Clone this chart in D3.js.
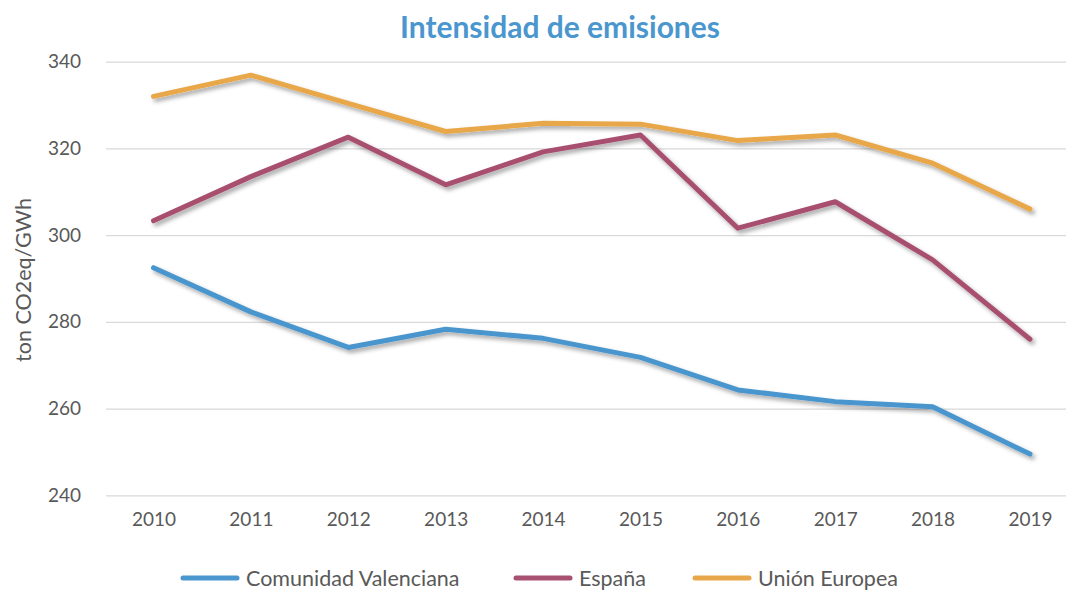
<!DOCTYPE html>
<html>
<head>
<meta charset="utf-8">
<script src="https://cdn.jsdelivr.net/npm/d3@7"></script>
<style>
  html, body { margin: 0; padding: 0; background: #fff; }
  svg { display: block; font-family: Lato, "Open Sans", sans-serif; }
</style>
</head>
<body>
<svg id="chart" width="1067" height="590"></svg>
<script>
// Emission intensity, ton CO2eq per GWh
const years = ["2010","2011","2012","2013","2014","2015","2016","2017","2018","2019"];
const comunidadValenciana = [292.5, 282.3, 274.1, 278.3, 276.2, 271.8, 264.3, 261.6, 260.4, 249.5];
const espana = [303.3, 313.5, 322.6, 311.6, 319.2, 323.1, 301.6, 307.7, 294.3, 276.0];
const unionEuropea = [332.0, 336.9, 330.4, 323.9, 325.8, 325.6, 321.8, 323.1, 316.6, 306.0];
const yTicks = [240, 260, 280, 300, 320, 340];

const seriesNames = ["Comunidad Valenciana", "España", "Unión Europea"];
const seriesValues = [comunidadValenciana, espana, unionEuropea];
const colors = ["#4A96CE", "#A8506F", "#E8A74A"];

const svg = d3.select("#chart");
const textColor = "#595959";

const defs = svg.append("defs");
const shadow = defs.append("filter").attr("id", "lineShadow")
  .attr("x", "-10%").attr("y", "-10%").attr("width", "120%").attr("height", "130%");
shadow.append("feDropShadow")
  .attr("dx", 2.5).attr("dy", 3).attr("stdDeviation", 2)
  .attr("flood-color", "#000").attr("flood-opacity", 0.35);

const x = d3.scalePoint().domain(years).range([153.5, 1030]);
const y = d3.scaleLinear().domain([240, 340]).range([495.3, 61.7]);

// Horizontal gridlines
const grid = svg.append("g")
  .attr("transform", "translate(106,0)")
  .call(d3.axisLeft(y).tickValues(yTicks).tickSize(-960).tickFormat(""));
grid.select(".domain").remove();
grid.selectAll(".tick line").attr("stroke", "#D9D9D9").attr("stroke-width", 1.2);

// Y axis labels
const yAxis = svg.append("g")
  .attr("transform", "translate(81,0)")
  .call(d3.axisLeft(y).tickValues(yTicks).tickSize(0).tickPadding(0));
yAxis.select(".domain").remove();
yAxis.selectAll("text")
  .attr("fill", textColor).style("font-size", "19px")
  .style("font-family", "Lato, sans-serif");

// X axis labels
const xAxis = svg.append("g")
  .attr("transform", "translate(0,512)")
  .call(d3.axisBottom(x).tickSize(0).tickPadding(0));
xAxis.select(".domain").remove();
xAxis.selectAll("text")
  .attr("fill", textColor).style("font-size", "19px")
  .style("font-family", "Lato, sans-serif");

// Axis title
svg.append("text")
  .attr("transform", "translate(31,280) rotate(-90)")
  .attr("text-anchor", "middle")
  .attr("fill", textColor)
  .style("font-size", "21.5px")
  .text("ton CO2eq/GWh");

// Chart title
svg.append("text")
  .attr("x", 560).attr("y", 38)
  .attr("text-anchor", "middle")
  .attr("fill", "#4A96CE")
  .style("font-size", "30px").style("font-weight", "bold")
  .text("Intensidad de emisiones");

// Series lines
const line = d3.line()
  .x((d, i) => x(years[i]))
  .y(d => y(d));

svg.append("g").selectAll("path")
  .data(seriesValues)
  .join("path")
  .attr("d", line)
  .attr("fill", "none")
  .attr("stroke", (d, i) => colors[i])
  .attr("stroke-width", 5)
  .attr("stroke-linecap", "round")
  .attr("stroke-linejoin", "round")
  .attr("filter", "url(#lineShadow)");

// Legend
const legendStarts = [183, 516, 695];
const legend = svg.append("g").attr("transform", "translate(0,578)");
seriesNames.forEach((name, i) => {
  const g = legend.append("g").attr("transform", `translate(${legendStarts[i]},0)`);
  g.append("line")
    .attr("x1", 0).attr("x2", 54).attr("y1", 0).attr("y2", 0)
    .attr("stroke", colors[i]).attr("stroke-width", 5)
    .attr("stroke-linecap", "round");
  g.append("text")
    .attr("x", 63).attr("y", 0).attr("dy", "0.35em")
    .attr("fill", textColor)
    .style("font-size", "21.5px")
    .text(name);
});
</script>
</body>
</html>
